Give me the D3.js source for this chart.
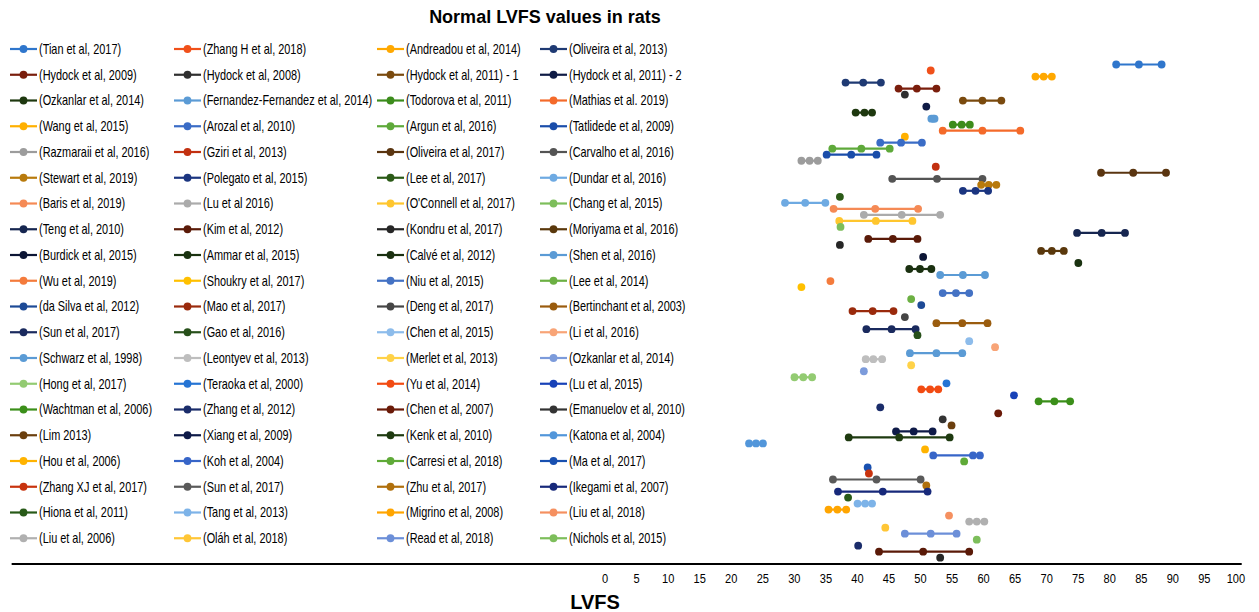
<!DOCTYPE html>
<html>
<head>
<meta charset="utf-8">
<script src="https://cdn.jsdelivr.net/npm/d3@7"></script>
<style>
  html, body { margin: 0; padding: 0; background: #fff; }
  svg { display: block; }
  .legend text, .tick text { font-family: 'Liberation Sans', Arial, sans-serif; }
</style>
</head>
<body>
<svg id="chart" width="1259" height="612"></svg>
<script>
// ---------- data ----------
const chartTitle = "Normal LVFS values in rats";
const axisTitle = "LVFS";
const studies = [
  "(Tian et al, 2017)", "(Zhang H et al, 2018)", "(Andreadou et al, 2014)", "(Oliveira et al, 2013)",
  "(Hydock et al, 2009)", "(Hydock et al, 2008)", "(Hydock et al, 2011) - 1", "(Hydock et al, 2011) - 2",
  "(Ozkanlar et al, 2014)", "(Fernandez-Fernandez et al, 2014)", "(Todorova et al, 2011)", "(Mathias et al. 2019)",
  "(Wang et al, 2015)", "(Arozal et al, 2010)", "(Argun et al, 2016)", "(Tatlidede et al, 2009)",
  "(Razmaraii et al, 2016)", "(Gziri et al, 2013)", "(Oliveira et al, 2017)", "(Carvalho et al, 2016)",
  "(Stewart et al, 2019)", "(Polegato et al, 2015)", "(Lee et al, 2017)", "(Dundar et al, 2016)",
  "(Baris et al, 2019)", "(Lu et al 2016)", "(O'Connell et al, 2017)", "(Chang et al, 2015)",
  "(Teng et al, 2010)", "(Kim et al, 2012)", "(Kondru et al, 2017)", "(Moriyama et al, 2016)",
  "(Burdick et al, 2015)", "(Ammar et al, 2015)", "(Calvé et al, 2012)", "(Shen et al, 2016)",
  "(Wu et al, 2019)", "(Shoukry et al, 2017)", "(Niu et al, 2015)", "(Lee et al, 2014)",
  "(da Silva et al, 2012)", "(Mao et al, 2017)", "(Deng et al, 2017)", "(Bertinchant et al, 2003)",
  "(Sun et al, 2017)", "(Gao et al, 2016)", "(Chen et al, 2015)", "(Li et al, 2016)",
  "(Schwarz et al, 1998)", "(Leontyev et al, 2013)", "(Merlet et al, 2013)", "(Ozkanlar et al, 2014)",
  "(Hong et al, 2017)", "(Teraoka et al, 2000)", "(Yu et al, 2014)", "(Lu et al, 2015)",
  "(Wachtman et al, 2006)", "(Zhang et al, 2012)", "(Chen et al, 2007)", "(Emanuelov et al, 2010)",
  "(Lim 2013)", "(Xiang et al, 2009)", "(Kenk et al, 2010)", "(Katona et al, 2004)",
  "(Hou et al, 2006)", "(Koh et al, 2004)", "(Carresi et al, 2018)", "(Ma et al, 2017)",
  "(Zhang XJ et al, 2017)", "(Sun et al, 2017)", "(Zhu et al, 2017)", "(Ikegami et al, 2007)",
  "(Hiona et al, 2011)", "(Tang et al, 2013)", "(Migrino et al, 2008)", "(Liu et al, 2018)",
  "(Liu et al, 2006)", "(Oláh et al, 2018)", "(Read et al, 2018)", "(Nichols et al, 2015)"
];
// LVFS (%) per study: [low, mean, high] or a single value
const lvfsValues = [
  [81.1, 84.7, 88.3], [51.7], [68.3, 69.6, 70.9], [38.2, 41.0, 43.8],
  [46.6, 49.5, 52.6], [47.6], [56.8, 59.9, 62.9], [51.0],
  [39.8, 41.2, 42.4], [51.8, 52.1, 52.3], [55.2, 56.6, 57.9], [53.6, 59.9, 65.9],
  [47.6], [43.7, 47.0, 50.3], [36.1, 40.7, 45.2], [35.2, 39.1, 43.1],
  [31.2, 32.5, 33.8], [52.5], [78.7, 83.8, 89.0], [45.6, 52.7, 59.9],
  [59.7, 60.9, 62.1], [56.8, 58.8, 60.8], [37.3], [28.6, 31.8, 35.0],
  [36.3, 42.9, 49.7], [41.1, 47.1, 53.2], [37.2, 43.0, 48.8], [37.4],
  [74.9, 78.8, 82.5], [41.8, 45.7, 49.6], [37.3], [69.2, 70.9, 72.8],
  [50.5], [75.1], [48.3, 50.0, 51.8], [53.2, 56.8, 60.3],
  [35.8], [31.2], [53.6, 55.7, 57.8], [48.6],
  [50.2], [39.3, 42.5, 45.8], [47.6], [52.6, 56.7, 60.7],
  [41.5, 45.5, 49.3], [49.6], [57.8], [61.9],
  [48.4, 52.6, 56.7], [41.4, 42.6, 44.0], [48.6], [41.1],
  [30.1, 31.5, 32.9], [54.2], [50.2, 51.6, 52.9], [64.9],
  [68.8, 71.3, 73.8], [43.7], [62.4], [53.6],
  [55.0], [46.2, 49.0, 52.0], [38.7, 46.7, 54.7], [22.9, 24.0, 25.1],
  [50.8], [52.1, 58.4, 59.5], [57.0], [41.7],
  [41.9], [36.2, 43.1, 50.1], [51.0], [37.0, 44.1, 51.2],
  [38.6], [40.1, 41.3, 42.4], [35.5, 36.9, 38.3], [54.6],
  [57.8, 59.0, 60.2], [44.5], [47.6, 51.7, 55.8], [59.0],
  // three further plotted series without a legend entry
  [40.2], [43.5, 50.5, 57.8], [53.2]
];
const tickValues = d3.range(0, 101, 5);
const axisMin = -94, axisMax = 101;   // horizontal axis extent (negative labels hidden)

// ---------- styles ----------
const colors = [
  "#2F76CC", "#F0501A", "#FFA800", "#1F3A73",
  "#7A1E0C", "#2F2F2F", "#7A4A0E", "#0F1B45",
  "#1E380F", "#5B9BD5", "#3C8C1C", "#F46A2A",
  "#FFB000", "#3A6CC6", "#5EA93A", "#1A4DAA",
  "#9C9C9C", "#C23010", "#5A3510", "#545454",
  "#B87A0C", "#1B3580", "#2B5A17", "#6EAAE2",
  "#F58A55", "#ABABAB", "#FFC62E", "#7DBE5B",
  "#162650", "#5A1A08", "#262626", "#5A380C",
  "#0C1535", "#1A3210", "#1A3010", "#5B9BD5",
  "#F47B3C", "#FFC000", "#4472C4", "#6CB043",
  "#1D4A96", "#9A2A0C", "#454545", "#9A5C0E",
  "#1A2A5E", "#27501A", "#8DBCEB", "#F8A477",
  "#5B9BD5", "#BEBEBE", "#FFD248", "#7C9BDB",
  "#93CB72", "#2574D4", "#F24B12", "#1842B8",
  "#3B8F1A", "#1A2C6A", "#6A1A08", "#333333",
  "#6B3F0E", "#0E1A48", "#1E3A10", "#5296DA",
  "#FFB300", "#3765C8", "#5FAA38", "#1850B0",
  "#C8330E", "#5A5A5A", "#B0700C", "#17297A",
  "#285A18", "#7DB3E8", "#FFA500", "#F59060",
  "#B0B0B0", "#FFC636", "#6C8FD8", "#7DBE5B",
  "#1A2C6A", "#5A1A08", "#262626"
];

const svg = d3.select("#chart");

// scales
const x = d3.scaleLinear().domain([0, 100]).range([604.6, 1235.4]);
const y = d3.scaleLinear().domain([1, lvfsValues.length]).range([64.5, 557.7]);
const axisY = 564;

// title
svg.append("text")
  .attr("x", 545).attr("y", 23)
  .attr("text-anchor", "middle")
  .style("font-family", "'Liberation Sans', Arial, sans-serif")
  .style("font-weight", "bold").style("font-size", "18px")
  .attr("fill", "#000")
  .text(chartTitle);

// series
const series = svg.append("g").attr("class", "series");
lvfsValues.forEach((vals, i) => {
  const g = series.append("g");
  const yy = y(i + 1);
  if (vals.length > 1) {
    g.append("path")
      .attr("d", d3.line()(vals.map(v => [x(v), yy])))
      .attr("stroke", colors[i]).attr("stroke-width", 2.2).attr("fill", "none");
  }
  g.selectAll("circle").data(vals).join("circle")
    .attr("cx", v => x(v)).attr("cy", yy).attr("r", 3.9)
    .attr("fill", colors[i]);
});

// x axis
svg.append("line")
  .attr("x1", x(axisMin)).attr("x2", x(axisMax)).attr("y1", axisY).attr("y2", axisY)
  .attr("stroke", "#000").attr("stroke-width", 2);

const axis = svg.append("g").attr("transform", `translate(0,${axisY})`)
  .call(d3.axisBottom(x).tickValues(tickValues).tickSize(0).tickPadding(9).tickFormat(d3.format("d")));
axis.select(".domain").remove();
axis.selectAll(".tick text").style("font-size", "13.5px").attr("fill", "#000")
  .attr("transform", "scale(0.82,1)");

svg.append("text")
  .attr("x", 595).attr("y", 609)
  .attr("text-anchor", "middle")
  .style("font-family", "'Liberation Sans', Arial, sans-serif")
  .style("font-weight", "bold").style("font-size", "20px")
  .attr("fill", "#000")
  .text(axisTitle);

// legend
const colX = [10, 174, 377, 540];
const legend = svg.append("g").attr("class", "legend");
studies.forEach((name, j) => {
  const cx = colX[j % 4];
  const cy = 49 + Math.floor(j / 4) * 25.75;
  const g = legend.append("g").attr("transform", `translate(${cx},${cy})`);
  g.append("line").attr("x1", 0).attr("x2", 27).attr("y1", 0).attr("y2", 0)
    .attr("stroke", colors[j]).attr("stroke-width", 2.2);
  g.append("circle").attr("cx", 13.5).attr("cy", 0).attr("r", 3.9).attr("fill", colors[j]);
  g.append("g").attr("transform", "translate(29,0) scale(0.78,1)")
    .append("text").attr("x", 0).attr("y", 0).attr("dy", "0.35em")
    .style("font-size", "14px").attr("fill", "#000").text(name);
});
</script>
</body>
</html>
